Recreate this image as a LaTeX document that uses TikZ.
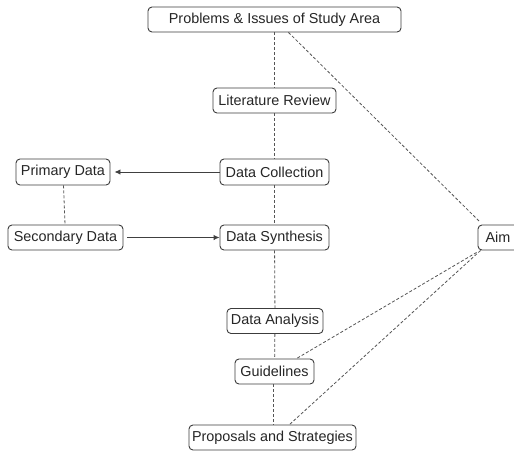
\documentclass[tikz,border=0pt]{standalone}
\usepackage{fontspec}
\setmainfont{Liberation Sans}
\usetikzlibrary{arrows.meta}
\definecolor{boxgray}{HTML}{3C3C3C}
\definecolor{linegray}{HTML}{555555}
\begin{document}
\begin{tikzpicture}[x=1pt,y=-1pt,
  box/.style={draw=boxgray, line width=0.9pt, rounded corners=4pt, minimum height=25pt, inner sep=0pt, text=black!85, font=\fontsize{14.4}{17}\selectfont},
  link/.style={draw=linegray, line width=0.8pt, dash pattern=on 3pt off 2pt},
  flow/.style={draw=black!75, line width=0.9pt, -{Latex[length=6pt,width=5.5pt]}}]
\useasboundingbox (0,0) rectangle (514,451);
\clip (0,0) rectangle (514,451);
\fill[white] (0,0) rectangle (514,451);

\node[box, minimum width=253pt] (prob) at (274.5,19.5) {Problems \& Issues of Study Area};
\node[box, minimum width=123pt] (lit) at (274.5,100.5) {Literature Review};
\node[box, minimum width=109pt, minimum height=26pt] (dc) at (274.5,172) {Data Collection};
\node[box, minimum width=94pt, minimum height=26pt] (pd) at (63,172) {Primary Data};
\node[box, minimum width=115pt] (sd) at (65.5,237.5) {Secondary Data};
\node[box, minimum width=109pt] (ds) at (274.5,237.5) {Data Synthesis};
\node[box, minimum width=40pt] (aim) at (498,237.5) {Aim};
\node[box, minimum width=96pt] (da) at (275,321) {Data Analysis};
\node[box, minimum width=79pt] (gl) at (274.5,371.5) {Guidelines};
\node[box, minimum width=167pt] (ps) at (272.5,437.5) {Proposals and Strategies};

\draw[link] (prob) -- (lit);
\draw[link] (lit) -- (dc);
\draw[link] (dc) -- (ds);
\draw[link] (ds) -- (da);
\draw[link] (da) -- (gl);
\draw[link] ([xshift=-1.5pt]gl.south) -- ([xshift=0.5pt]ps.north);
\draw[link] (pd) -- (sd);

\draw[link] ([xshift=14pt]prob.south) -- ([xshift=2pt,yshift=3pt]aim.north west);
\draw[link] ([xshift=-1pt,yshift=-2pt]aim.south west) -- ([xshift=22pt]gl.north);
\draw[link] ([xshift=3pt]aim.south west) -- ([xshift=17pt]ps.north);

\draw[flow, shorten >=4pt] (dc) -- (pd);
\draw[flow, shorten <=4pt] (sd) -- (ds);
\end{tikzpicture}
\end{document}
